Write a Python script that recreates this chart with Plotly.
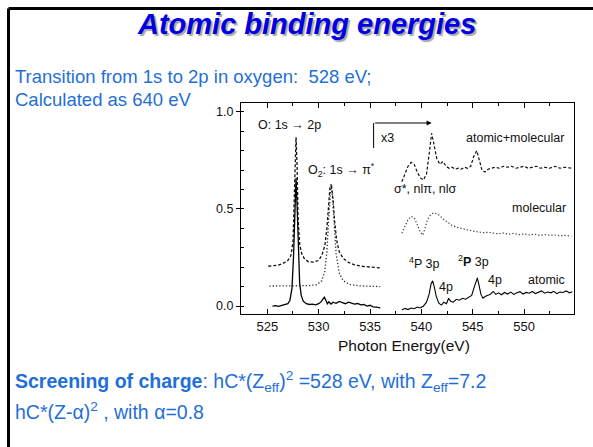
import plotly.graph_objects as go

# ---------------- data ----------------
# atomic (solid), low-energy part
x_atomic_1 = [525.5, 525.8, 526.1, 526.4, 526.7, 527.0, 527.2, 527.4, 527.55, 527.65, 527.72, 527.8, 527.9, 528.0,
              528.15, 528.3, 528.5, 528.8, 529.1, 529.4, 529.7, 530.0, 530.2, 530.4, 530.55, 530.7, 530.85, 531.0,
              531.2, 531.4, 531.7, 532.0, 532.3, 532.6, 532.9, 533.2, 533.5, 533.8, 534.1, 534.4, 534.7, 535.0,
              535.3, 535.6, 536.0]
y_atomic_1 = [0.0, 0.002, -0.002, 0.003, 0.006, 0.012, 0.03, 0.09, 0.25, 0.48, 0.63, 0.66, 0.52, 0.3,
              0.12, 0.055, 0.025, 0.012, 0.008, 0.01, 0.006, 0.012, 0.02, 0.034, 0.045, 0.03, 0.012, 0.022,
              0.01, 0.02, 0.014, 0.024, 0.018, 0.012, 0.02, 0.015, 0.01, 0.013, 0.006, 0.008, 0.0, 0.004,
              -0.004, -0.006, -0.01]
# atomic (solid), x3 part
x_atomic_2 = [538.1, 538.4, 538.7, 539.0, 539.3, 539.6, 539.9, 540.2, 540.5, 540.75, 540.95, 541.1, 541.25,
              541.45, 541.7, 541.95, 542.2, 542.45, 542.65, 542.85, 543.1, 543.4, 543.7, 544.0, 544.3, 544.6,
              544.9, 545.1, 545.3, 545.45, 545.6, 545.8, 546.0, 546.25, 546.5, 546.75, 547.0, 547.25, 547.5,
              547.8, 548.1, 548.4, 548.7, 549.0, 549.3, 549.6, 549.9, 550.2, 550.5, 550.8, 551.1, 551.4, 551.7,
              552.0, 552.3, 552.6, 552.9, 553.2, 553.5, 553.8, 554.1, 554.4, 554.7]
y_atomic_2 = [-0.02, -0.012, -0.018, -0.01, -0.014, -0.005, -0.01, 0.0, 0.02, 0.06, 0.115, 0.13, 0.1,
              0.05, 0.015, 0.005, 0.02, 0.012, 0.04, 0.025, 0.02, 0.035, 0.03, 0.04, 0.035, 0.045,
              0.055, 0.09, 0.13, 0.145, 0.11, 0.06, 0.04, 0.05, 0.055, 0.062, 0.075, 0.06, 0.068,
              0.058, 0.07, 0.062, 0.072, 0.06, 0.068, 0.074, 0.062, 0.07, 0.066, 0.075, 0.064, 0.07, 0.078,
              0.066, 0.072, 0.068, 0.076, 0.064, 0.072, 0.07, 0.078, 0.068, 0.074]

# atomic+molecular (dashed)
x_am_1 = [525.1, 525.5, 526.0, 526.5, 527.0, 527.3, 527.5, 527.62, 527.72, 527.8, 527.9, 528.0, 528.15, 528.35,
          528.6, 529.0, 529.5, 530.0, 530.3, 530.6, 530.8, 530.95, 531.1, 531.25, 531.4, 531.55, 531.75, 532.0,
          532.4, 532.9, 533.5, 534.2, 535.0, 536.0]
y_am_1 = [0.205, 0.206, 0.21, 0.218, 0.235, 0.26, 0.33, 0.55, 0.8, 0.87, 0.72, 0.45, 0.32, 0.27,
          0.245, 0.228, 0.226, 0.235, 0.26, 0.31, 0.4, 0.52, 0.61, 0.62, 0.55, 0.44, 0.34, 0.28,
          0.245, 0.225, 0.212, 0.205, 0.2, 0.196]
x_am_2 = [538.1, 538.4, 538.7, 539.0, 539.3, 539.6, 539.9, 540.2, 540.5, 540.8, 541.0, 541.2, 541.5, 541.8,
          542.1, 542.4, 542.7, 543.0, 543.3, 543.6, 543.9, 544.2, 544.5, 544.8, 545.1, 545.4, 545.6, 545.9,
          546.2, 546.5, 546.8, 547.2, 547.6, 548.0, 548.4, 548.8, 549.2, 549.6, 550.0, 550.4, 550.8, 551.2,
          551.6, 552.0, 552.5, 553.0, 553.5, 554.0, 554.6]
y_am_2 = [0.64, 0.68, 0.72, 0.74, 0.73, 0.69, 0.66, 0.65, 0.68, 0.8, 0.89, 0.84, 0.76, 0.73,
          0.745, 0.72, 0.71, 0.715, 0.705, 0.71, 0.705, 0.715, 0.71, 0.72, 0.77, 0.8, 0.76, 0.7,
          0.69, 0.705, 0.71, 0.715, 0.71, 0.72, 0.715, 0.72, 0.71, 0.715, 0.72, 0.71, 0.715, 0.72,
          0.71, 0.715, 0.71, 0.72, 0.71, 0.715, 0.71]

# molecular (dotted)
x_mol_1 = [525.2, 526.0, 527.0, 528.0, 529.0, 529.8, 530.3, 530.6, 530.8, 530.95, 531.1, 531.2, 531.35, 531.5,
           531.7, 532.0, 532.4, 533.0, 534.0, 535.0, 536.0]
y_mol_1 = [0.103, 0.103, 0.104, 0.104, 0.105, 0.11, 0.13, 0.18, 0.28, 0.42, 0.58, 0.63, 0.56, 0.42,
           0.27, 0.17, 0.13, 0.112, 0.104, 0.102, 0.1]
x_mol_2 = [538.1, 538.4, 538.7, 539.0, 539.3, 539.6, 539.9, 540.15, 540.4, 540.6, 540.9, 541.2, 541.5, 541.8,
           542.2, 542.6, 543.0, 543.5, 544.0, 544.5, 545.0, 545.5, 546.0, 546.5, 547.0, 547.5, 548.0, 548.5,
           549.0, 549.5, 550.0, 550.5, 551.0, 551.5, 552.0, 552.5, 553.0, 553.5, 554.0, 554.6]
y_mol_2 = [0.375, 0.41, 0.445, 0.462, 0.455, 0.42, 0.38, 0.366, 0.41, 0.445, 0.47, 0.48, 0.476, 0.465,
           0.445, 0.43, 0.415, 0.405, 0.398, 0.39, 0.386, 0.382, 0.378, 0.38, 0.375, 0.372, 0.376, 0.37,
           0.374, 0.368, 0.372, 0.366, 0.37, 0.364, 0.368, 0.365, 0.366, 0.362, 0.364, 0.36]

x_ticks = [525, 530, 535, 540, 545, 550]
y_ticks = [0.0, 0.5, 1.0]
y_tick_labels = ["0.0", "0.5", "1.0"]

# ---------------- figure ----------------
W, H = 593, 447
FONT = "Liberation Sans, Arial, sans-serif"
fig = go.Figure()

def line(x, y, dash, color, width=1.1):
    fig.add_trace(go.Scatter(x=x, y=y, mode="lines", showlegend=False, hoverinfo="skip",
                             line=dict(color=color, width=width, dash=dash)))

line(x_mol_1, y_mol_1, "1.3px,2px", "#333333", 1.3)
line(x_mol_2, y_mol_2, "1.3px,2px", "#444444", 1.2)
line(x_am_1, y_am_1, "3px,2px", "#111111", 1.3)
line(x_am_2, y_am_2, "3px,2px", "#111111", 1.2)
line(x_atomic_1, y_atomic_1, "solid", "#000000", 1.3)
line(x_atomic_2, y_atomic_2, "solid", "#000000", 1.1)

# plot area position (pixels)
L, R, T, B = 241, 574, 103, 314

fig.update_layout(
    width=W, height=H, margin=dict(l=0, r=0, t=0, b=0),
    paper_bgcolor="white", plot_bgcolor="white",
    font=dict(family=FONT, color="black", size=12),
    xaxis=dict(domain=[L / W, R / W], range=[522.44, 554.86], tickvals=x_ticks,
               ticks="inside", ticklen=5, tickcolor="black", showline=True, linecolor="black",
               linewidth=1.3, mirror="ticks", showgrid=False, zeroline=False,
               tickfont=dict(size=13, family=FONT, color="#111"),
               minor=dict(dtick=2.5, ticks="inside", ticklen=3, tickcolor="black")),
    yaxis=dict(domain=[1 - B / H, 1 - T / H], range=[-0.041, 1.046], tickvals=y_ticks,
               ticktext=y_tick_labels, ticks="outside", ticklen=4, tickcolor="black",
               showline=True, linecolor="black", linewidth=1.3, mirror=True, showgrid=False,
               zeroline=False, tickfont=dict(size=12.5, family=FONT, color="#111"),
               minor=dict(dtick=0.1, ticks="inside", ticklen=3, tickcolor="black")),
)

ann = []
def txt(x, y, s, size=12.5, xanchor="center", xref="x", yref="y", color="#111", shadow=None):
    f = dict(family=FONT, size=size, color=color)
    if shadow:
        f["shadow"] = shadow
    ann.append(dict(x=x, y=y, text=s, xref=xref, yref=yref, showarrow=False, xanchor=xanchor,
                    yanchor="middle", font=f))

# chart labels
txt(527.14, 0.933, "O: 1s → 2p")
txt(532.27, 0.70, "O<sub>2</sub>: 1s → π<sup>*</sup>")
txt(536.75, 0.866, "x3")
txt(549.1, 0.866, "atomic+molecular")
txt(540.36, 0.603, "σ*, nlπ, nlσ")
txt(551.46, 0.505, "molecular")
txt(540.26, 0.222, "<sup>4</sup>P 3p")
txt(545.03, 0.232, "<sup>2</sup><b>P</b> 3p")
txt(542.4, 0.098, "4p")
txt(547.17, 0.134, "4p")
txt(552.14, 0.134, "atomic")
txt(403.5 / W, 1 - 345 / H, "Photon Energy(eV)", size=15.5, xref="paper", yref="paper")

# x3 bracket + arrow
fig.add_shape(type="line", x0=535.35, x1=535.35, y0=0.814, y1=0.943, xref="x", yref="y",
              line=dict(color="black", width=1))
ann.append(dict(x=541.0, y=0.943, ax=535.35, ay=0.943, xref="x", yref="y", axref="x", ayref="y",
                showarrow=True, arrowhead=2, arrowsize=1, arrowwidth=1, arrowcolor="black", text=""))

# slide text
BLUE = "#1f6fd6"
txt(306 / W, 1 - 24 / H, "<b><i>Atomic binding energies</i></b>", size=29, xref="paper",
    yref="paper", color="#0000e6", shadow="2px 2px 1px #a8a8a8")
txt(13 / W, 1 - 77 / H, "Transition from 1s to 2p in oxygen:&nbsp; 528 eV;", size=18.5, xanchor="left",
    xref="paper", yref="paper", color=BLUE)
txt(13 / W, 1 - 99 / H, "Calculated as 640 eV", size=18.5, xanchor="left",
    xref="paper", yref="paper", color=BLUE)
txt(13 / W, 1 - 381 / H,
    "<b>Screening of charge</b>: hC*(Z<sub>eff</sub>)<sup>2</sup> =528 eV, with Z<sub>eff</sub>=7.2",
    size=19.5, xanchor="left", xref="paper", yref="paper", color=BLUE)
txt(13 / W, 1 - 411 / H, "hC*(Z-α)<sup>2</sup> , with α=0.8", size=19.5, xanchor="left",
    xref="paper", yref="paper", color=BLUE)

fig.update_layout(annotations=ann)

# slide frame (top and left border)
fig.add_shape(type="line", x0=8.5 / W, x1=1, y0=1 - 8.5 / H, y1=1 - 8.5 / H, xref="paper", yref="paper",
              line=dict(color="black", width=3))
fig.add_shape(type="line", x0=8.5 / W, x1=8.5 / W, y0=0, y1=1 - 8.5 / H, xref="paper", yref="paper",
              line=dict(color="black", width=3))

fig.write_html("out.html")
